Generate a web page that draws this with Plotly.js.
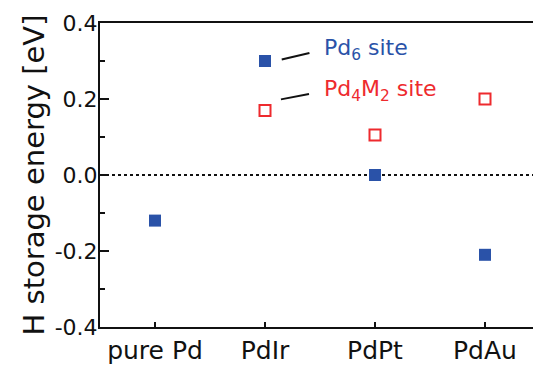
<!DOCTYPE html>
<html>
<head>
<meta charset="utf-8">
<script src="https://cdn.plot.ly/plotly-3.0.1.min.js"></script>
<style>html,body{margin:0;padding:0;background:#fff;}#chart{width:533px;height:372px;}</style>
</head>
<body>
<div id="chart"></div>
<script>
const categories = ["pure Pd", "PdIr", "PdPt", "PdAu"];
const pd6Values = [-0.12, 0.30, 0.00, -0.21];
const pd4m2Categories = ["PdIr", "PdPt", "PdAu"];
const pd4m2Values = [0.17, 0.105, 0.20];
const yTickVals = [-0.4, -0.2, 0.0, 0.2, 0.4];
const yTickText = ["-0.4", "-0.2", "0.0", "0.2", "0.4"];

const BLUE = "#2a52a8";
const RED = "#ee2a2e";
const FONT = "DejaVu Sans, Liberation Sans, Arial, sans-serif";

const xIndex = c => categories.indexOf(c);

const traces = [
  {
    x: categories.map(xIndex), y: pd6Values, type: "scatter", mode: "markers",
    marker: {symbol: "square", size: 12, color: BLUE, line: {width: 0}},
    name: "Pd6 site", showlegend: false, cliponaxis: false
  },
  {
    x: pd4m2Categories.map(xIndex), y: pd4m2Values, type: "scatter", mode: "markers",
    marker: {symbol: "square-open", size: 11, color: RED, line: {width: 2, color: RED}},
    name: "Pd4M2 site", showlegend: false, cliponaxis: false
  }
];

const layout = {
  width: 533, height: 372,
  margin: {l: 100, r: 0, t: 23, b: 45, pad: 0},
  paper_bgcolor: "#fff", plot_bgcolor: "#fff",
  font: {family: FONT, color: "#111", size: 21},
  xaxis: {
    range: [-0.5, -0.5 + 433 / 110],
    tickvals: categories.map(xIndex), ticktext: categories,
    showgrid: false, zeroline: false,
    showline: true, linecolor: "#111", linewidth: 2, mirror: true,
    ticks: "inside", ticklen: 5, tickwidth: 2, tickcolor: "#111",
    tickfont: {family: FONT, size: 25, color: "#111"},
    fixedrange: true
  },
  yaxis: {
    range: [-0.4, 0.4],
    tickvals: yTickVals, ticktext: yTickText,
    showgrid: false, zeroline: false,
    showline: true, linecolor: "#111", linewidth: 2,
    ticks: "inside", ticklen: 9, tickwidth: 2, tickcolor: "#111",
    ticklabelstandoff: -4,
    minor: {dtick: 0.1, ticks: "inside", ticklen: 5, tickwidth: 2, tickcolor: "#111"},
    tickfont: {family: FONT, size: 22, color: "#111"},
    title: {text: "H storage energy [eV]", font: {family: FONT, size: 29, color: "#111"}, standoff: 2},
    fixedrange: true
  },
  shapes: [
    {type: "line", xref: "paper", yref: "y", x0: 0, x1: 1, y0: 0, y1: 0,
     line: {color: "#111", width: 2, dash: "dot"}, layer: "below"},
    {type: "line", xref: "x", yref: "y", x0: 1.152, y0: 0.304, x1: 1.404, y1: 0.321,
     line: {color: "#111", width: 2}},
    {type: "line", xref: "x", yref: "y", x0: 1.145, y0: 0.199, x1: 1.40, y1: 0.213,
     line: {color: "#111", width: 2}}
  ],
  annotations: [
    {x: 1.52, y: 0.33, xref: "x", yref: "y", xanchor: "left", yanchor: "middle",
     text: "Pd<sub>6</sub> site", showarrow: false,
     font: {family: FONT, size: 22, color: BLUE}},
    {x: 1.52, y: 0.222, xref: "x", yref: "y", xanchor: "left", yanchor: "middle",
     text: "Pd<sub>4</sub>M<sub>2</sub> site", showarrow: false,
     font: {family: FONT, size: 22, color: RED}}
  ]
};

Plotly.newPlot("chart", traces, layout, {staticPlot: true, displayModeBar: false});
</script>
</body>
</html>
